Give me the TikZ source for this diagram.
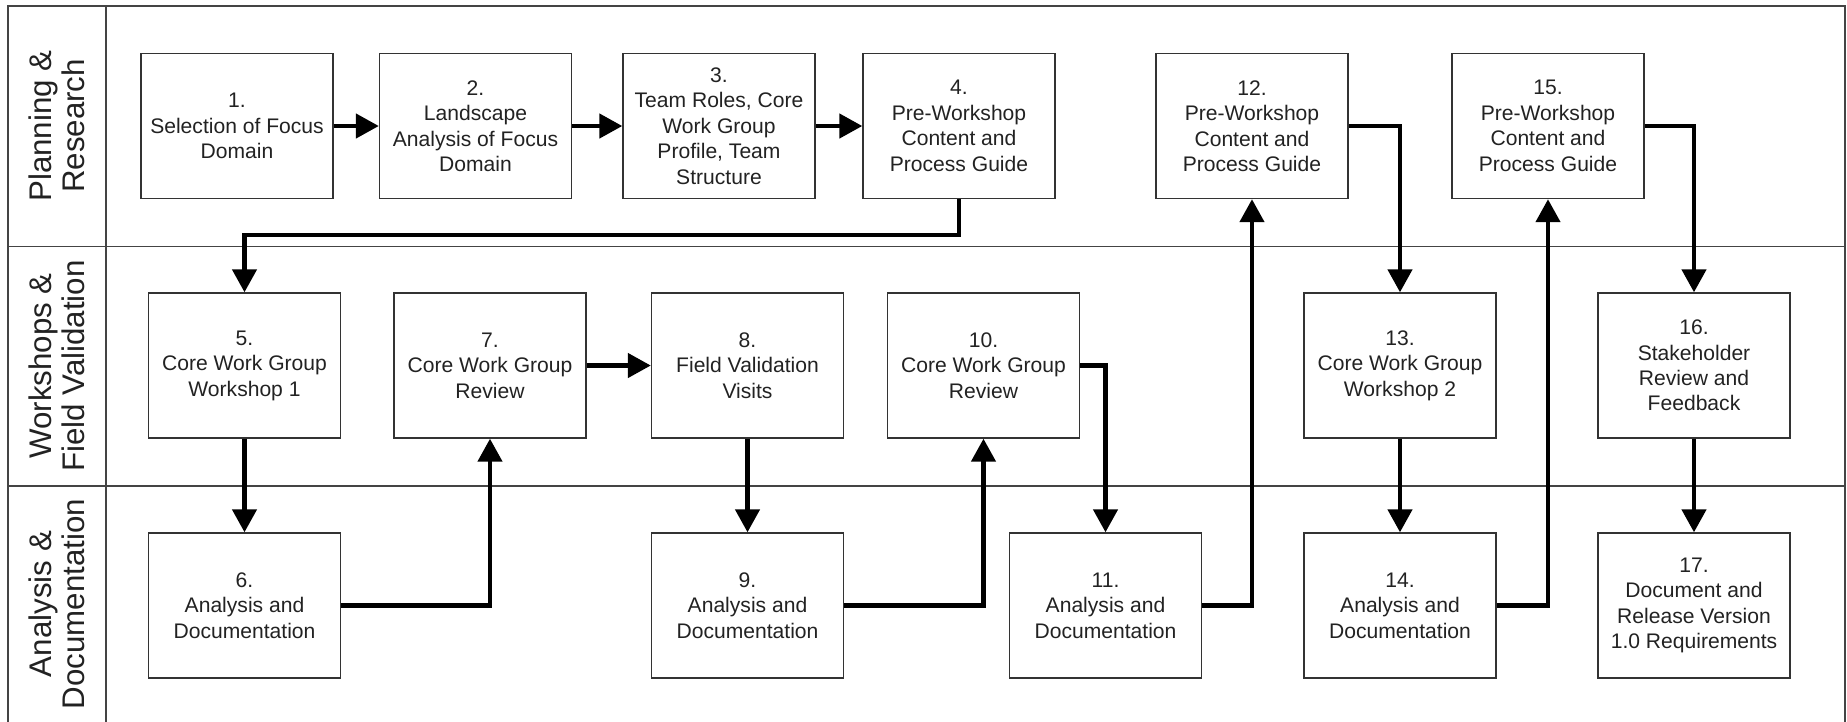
\documentclass[tikz,border=0pt]{standalone}
\usepackage{fontspec}
\setmainfont{Liberation Sans}
\usetikzlibrary{arrows.meta}
\definecolor{boxline}{HTML}{333333}
\definecolor{laneline}{HTML}{444444}
\definecolor{txt}{HTML}{222222}
\begin{document}
\begin{tikzpicture}[x=0.02cm,y=-0.02cm,
		task/.style={draw=boxline, line width=0.8pt, minimum width=3.84cm, minimum height=2.9cm, inner sep=2pt, align=center, text=txt, font=\fontsize{12}{14.5}\selectfont},
		lane/.style={rotate=90, align=center, text=txt, font=\fontsize{17.8}{19}\selectfont},
		flow/.style={line width=0.09cm, -{Triangle[length=0.46cm,width=0.48cm]}}]
		\useasboundingbox (0,0) rectangle (1847,721);
		\draw[laneline, line width=1.1pt] (8,730) -- (8,6) -- (1845,6) -- (1845,730);
		\draw[laneline, line width=1.1pt] (106,6) -- (106,730);
		\draw[laneline, line width=1.1pt] (8,246.5) -- (1845,246.5);
		\draw[laneline, line width=1.1pt] (8,486) -- (1845,486);
		\node[lane] (lane1) at (57,126) {Planning \&\\Research};
		\node[lane] (lane2) at (57,366) {Workshops \&\\Field Validation};
		\node[lane] (lane3) at (57,604) {Analysis \&\\Documentation};
		\node[task] (n1) at (237,126) {1.\\Selection of Focus\\Domain};
		\node[task] (n2) at (475.5,126) {2.\\Landscape\\Analysis of Focus\\Domain};
		\node[task] (n3) at (719,126) {3.\\Team Roles, Core\\Work Group\\Profile, Team\\Structure};
		\node[task] (n4) at (959,126) {4.\\Pre-Workshop\\Content and\\Process Guide};
		\node[task] (n12) at (1252,126) {12.\\Pre-Workshop\\Content and\\Process Guide};
		\node[task] (n15) at (1548,126) {15.\\Pre-Workshop\\Content and\\Process Guide};
		\node[task] (n5) at (244.5,365.5) {5.\\Core Work Group\\Workshop 1};
		\node[task] (n7) at (490,365.5) {7.\\Core Work Group\\Review};
		\node[task] (n8) at (747.5,365.5) {8.\\Field Validation\\Visits};
		\node[task] (n10) at (983.5,365.5) {10.\\Core Work Group\\Review};
		\node[task] (n13) at (1400,365.5) {13.\\Core Work Group\\Workshop 2};
		\node[task] (n16) at (1694,365.5) {16.\\Stakeholder\\Review and\\Feedback};
		\node[task] (n6) at (244.5,605.5) {6.\\Analysis and\\Documentation};
		\node[task] (n9) at (747.5,605.5) {9.\\Analysis and\\Documentation};
		\node[task] (n11) at (1105.5,605.5) {11.\\Analysis and\\Documentation};
		\node[task] (n14) at (1400,605.5) {14.\\Analysis and\\Documentation};
		\node[task] (n17) at (1694,605.5) {17.\\Document and\\Release Version\\1.0 Requirements};
		\draw[flow] (n1) -- (n2);
		\draw[flow] (n2) -- (n3);
		\draw[flow] (n3) -- (n4);
		\draw[flow] (n4.south) -- (n4.south |- 0,235) -| (n5.north);
		\draw[flow] (n5) -- (n6);
		\draw[flow] (n6.east) -| (n7.south);
		\draw[flow] (n7) -- (n8);
		\draw[flow] (n8) -- (n9);
		\draw[flow] (n9.east) -| (n10.south);
		\draw[flow] (n10.east) -| (n11.north);
		\draw[flow] (n11.east) -| (n12.south);
		\draw[flow] (n12.east) -| (n13.north);
		\draw[flow] (n13) -- (n14);
		\draw[flow] (n14.east) -| (n15.south);
		\draw[flow] (n15.east) -| (n16.north);
		\draw[flow] (n16) -- (n17);
	\end{tikzpicture}
\end{document}
